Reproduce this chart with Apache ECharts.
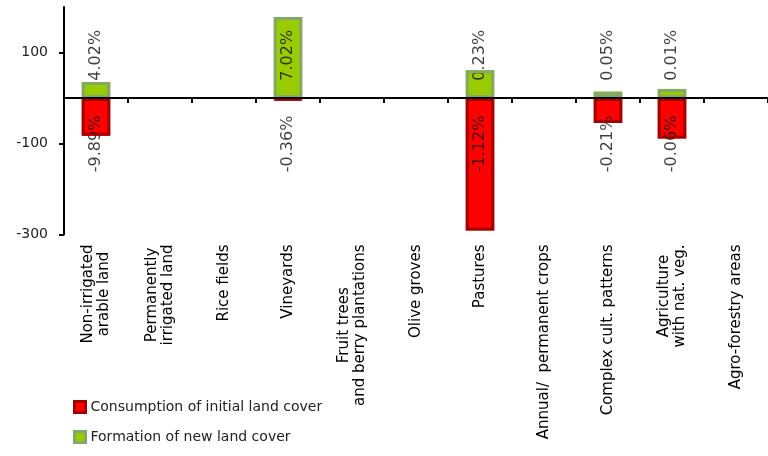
<!DOCTYPE html>
<html>
<head>
<meta charset="utf-8">
<script src="https://cdn.jsdelivr.net/npm/echarts@6/dist/echarts.min.js"></script>
<style>
  html, body { margin: 0; padding: 0; background: #fff; }
  #chart { width: 768px; height: 456px; }
</style>
</head>
<body>
<div id="chart"></div>
<script>
// Agricultural land cover flows: consumption vs. formation per class
const categories = [
  'Non-irrigated\narable land',
  'Permanently\nirrigated land',
  'Rice fields',
  'Vineyards',
  'Fruit trees\nand berry plantations',
  'Olive groves',
  'Pastures',
  'Annual/  permanent crops',
  'Complex cult. patterns',
  'Agriculture\nwith nat. veg.',
  'Agro-forestry areas'
];
const consumption = [-83, null, null, -6, null, null, -291, null, -55, -89, null];
const formation   = [35, null, null, 178, null, null, 61, null, 14, 20, null];
const consumptionPct = ['-9.89%', '', '', '-0.36%', '', '', '-1.12%', '', '-0.21%', '-0.06%', ''];
const formationPct   = ['4.02%', '', '', '7.02%', '', '', '0.23%', '', '0.05%', '0.01%', ''];
const yTicks = [-300, -100, 100];

const FONT = 'DejaVu Sans';
const RED = '#ff0000', RED_EDGE = '#a30000';
const GREEN = '#99cc00', GREEN_EDGE = '#84a866';
const BAR_W = 28.5;
const NAME_C = 'Consumption of initial land cover';
const NAME_F = 'Formation of new land cover';

// percentage captions sit on a fixed row above / below the zero line
const CAPTION_UP = 94, CAPTION_DOWN = -101;
function captionPoints(texts, at) {
  return texts
    .map((t, i) => (t ? { value: [i, at], text: t } : null))
    .filter(Boolean);
}

function fillBar(name, data, color) {
  return {
    type: 'bar', name, data, barWidth: BAR_W, barGap: '-100%', z: 2,
    itemStyle: { color }, silent: true
  };
}
function edgeBar(name, data, edge) {
  return {
    type: 'bar', name, data, barWidth: BAR_W, barGap: '-100%', z: 4,
    itemStyle: { color: 'rgba(0,0,0,0)', borderColor: edge, borderWidth: 3 },
    silent: true
  };
}
function captionSeries(texts, at) {
  return {
    type: 'scatter', data: captionPoints(texts, at), symbolSize: 1, z: 3,
    itemStyle: { color: 'rgba(0,0,0,0)' }, silent: true,
    label: {
      show: true, position: 'inside', rotate: 90,
      formatter: p => p.data.text,
      fontFamily: FONT, fontSize: 16, color: '#111'
    }
  };
}

const chart = echarts.init(document.getElementById('chart'), null, { renderer: 'canvas' });
chart.setOption({
  animation: false,
  backgroundColor: '#fff',
  grid: { left: 64, right: -3, top: 7, bottom: 221.5, containLabel: false },
  legend: {
    orient: 'vertical', left: 68, top: 394,
    itemWidth: 11, itemHeight: 11, itemGap: 14, icon: 'rect',
    textStyle: { fontFamily: FONT, fontSize: 14, color: '#222', lineHeight: 16 },
    data: [
      { name: NAME_C, itemStyle: { color: RED, borderColor: RED_EDGE, borderWidth: 3 } },
      { name: NAME_F, itemStyle: { color: GREEN, borderColor: GREEN_EDGE, borderWidth: 3 } }
    ]
  },
  xAxis: [
    {
      type: 'category', data: categories, position: 'bottom',
      axisLine: { show: false, onZero: false },
      axisTick: { show: false },
      axisLabel: {
        interval: 0, rotate: 90, margin: 10,
        fontFamily: FONT, fontSize: 15, color: '#000',
        formatter: v => v.split('\n').map(s => '{c|' + s + '}').join('\n'),
        rich: { c: { align: 'center', fontFamily: FONT, fontSize: 15, lineHeight: 16, color: '#000' } }
      }
    },
    {
      type: 'category', data: categories, position: 'top', z: 10,
      axisLine: { show: true, onZero: true, lineStyle: { color: '#000', width: 2 } },
      axisTick: { show: true, inside: true, interval: 0, length: 5, lineStyle: { color: '#000', width: 2 } },
      axisLabel: { show: false, interval: 0 }
    }
  ],
  yAxis: {
    type: 'value', min: -300, max: 200,
    axisLine: { show: true, lineStyle: { color: '#000', width: 2 } },
    axisTick: { show: true, length: 5, customValues: yTicks, lineStyle: { color: '#000', width: 2 } },
    axisLabel: { customValues: yTicks, margin: 16, fontFamily: FONT, fontSize: 14, color: '#222' },
    splitLine: { show: false }
  },
  series: [
    fillBar(NAME_C, consumption, RED),
    fillBar(NAME_F, formation, GREEN),
    captionSeries(consumptionPct, CAPTION_DOWN),
    captionSeries(formationPct, CAPTION_UP),
    edgeBar('edge-c', consumption, RED_EDGE),
    edgeBar('edge-f', formation, GREEN_EDGE)
  ]
});
</script>
</body>
</html>
